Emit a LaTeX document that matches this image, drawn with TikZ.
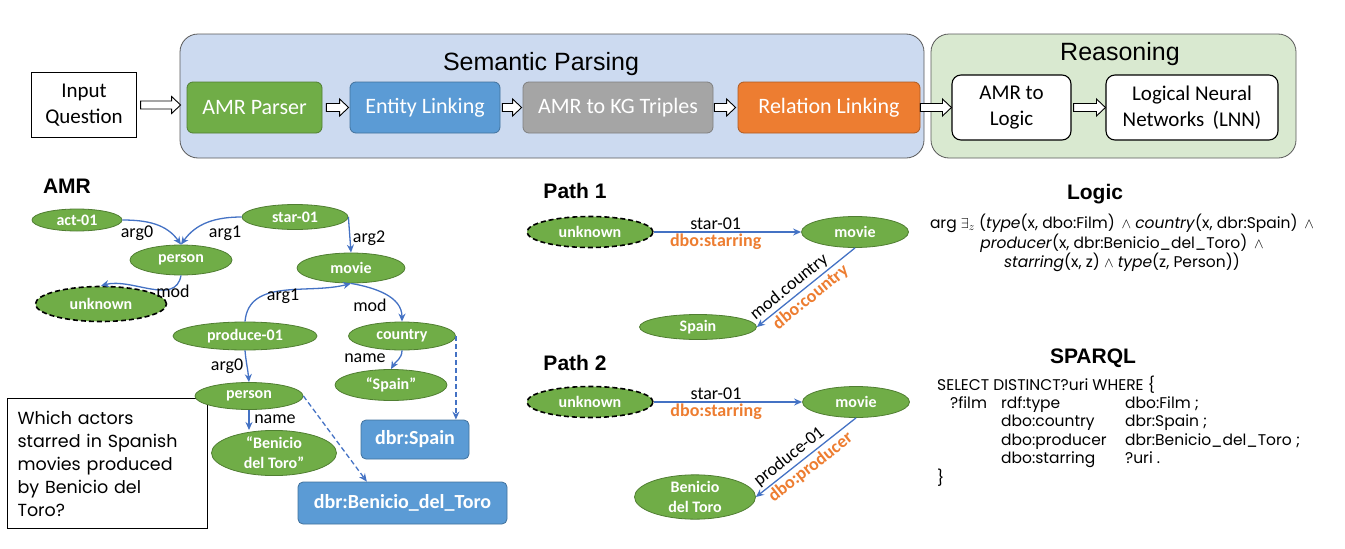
\documentclass[tikz,border=0pt]{standalone}
\usepackage{fontspec}
\setmainfont{Carlito}
\newfontfamily\arialfont{Liberation Sans}
\newfontfamily\gothicfont{Poppins}
\usetikzlibrary{shapes,arrows.meta,calc}

\definecolor{amrgreen}{HTML}{70AD47}
\definecolor{amrgreenline}{HTML}{507E32}
\definecolor{kgblue}{HTML}{5B9BD5}
\definecolor{kgblueline}{HTML}{41719C}
\definecolor{kggray}{HTML}{A5A5A5}
\definecolor{kggrayline}{HTML}{7F7F7F}
\definecolor{relorange}{HTML}{ED7D31}
\definecolor{relorangeline}{HTML}{AE5A21}
\definecolor{edgeblue}{HTML}{4472C4}
\definecolor{parsefill}{HTML}{CCDAF0}
\definecolor{reasonfill}{HTML}{D9E9D0}

\begin{document}
\begin{tikzpicture}[x=1pt,y=-1pt]
\useasboundingbox (0,0) rectangle (1345,549);
\tikzstyle{stage}=[draw, rounded corners=6pt, line width=0.8pt, minimum height=51pt, inner sep=0pt, text=white, font=\fontsize{22}{26}\selectfont]
\tikzstyle{whitebox}=[draw=black, fill=white, rounded corners=9pt, line width=1.1pt, minimum height=65pt, inner sep=0pt, align=center, font=\fontsize{21}{26}\selectfont]
\tikzstyle{hollow}=[draw=black, fill=white, line width=0.9pt,
  to path={let \p1=(\tikztostart), \p2=(\tikztotarget) in
    (\x1,\y1+4pt) -- (\x2-9pt,\y1+4pt) -- (\x2-9pt,\y1+8.5pt) -- (\x2,\y1)
    -- (\x2-9pt,\y1-8.5pt) -- (\x2-9pt,\y1-4pt) -- (\x1,\y1-4pt) -- cycle}]
\tikzstyle{amr}=[ellipse, draw=amrgreenline, fill=amrgreen, line width=0.8pt, inner sep=0pt, align=center, text=white, font=\bfseries\fontsize{16}{20}\selectfont]
\tikzstyle{unk}=[amr, draw=black, line width=1.6pt, dash pattern=on 5pt off 3pt]
\tikzstyle{kg}=[draw=kgblueline, fill=kgblue, rounded corners=5pt, line width=0.8pt, inner sep=0pt, text=white, font=\bfseries\fontsize{20}{24}\selectfont]
\tikzstyle{link}=[draw=edgeblue, line width=1.3pt, -{Stealth[length=8pt,width=7pt]}]
\tikzstyle{lbl}=[inner sep=1.5pt, font=\fontsize{18}{20}\selectfont]
\tikzstyle{rel}=[inner sep=1.5pt, text=relorange, font=\bfseries\fontsize{18}{20}\selectfont]
\tikzstyle{title}=[font=\arialfont\bfseries\fontsize{21}{24}\selectfont]

\begin{scope}
\draw[draw=black!65, fill=parsefill, line width=0.8pt, rounded corners=18pt] (180,34) rectangle (924,158);
\draw[draw=black!65, fill=reasonfill, line width=0.8pt, rounded corners=18pt] (931,34) rectangle (1296,158);
\draw (541,64) node[font=\arialfont\fontsize{25}{28}\selectfont] (semp) {Semantic Parsing};
\draw (1120,54) node[font=\arialfont\fontsize{25}{28}\selectfont] (reas) {Reasoning};
\draw (84,105) node[draw=black, line width=1.1pt, minimum width=105pt, minimum height=65pt, align=center, font=\fontsize{21}{26}\selectfont] (inq) {Input\\Question};
\draw (254.5,107.5) node[stage, fill=amrgreen, draw=amrgreenline, minimum width=135pt] (amrp) {AMR Parser};
\draw (425,107.5) node[stage, fill=kgblue, draw=kgblueline, minimum width=150pt] (ent) {Entity Linking};
\draw (618,107.5) node[stage, fill=kggray, draw=kggrayline, minimum width=190pt] (kgt) {AMR to KG Triples};
\draw (829,107.5) node[stage, fill=relorange, draw=relorangeline, minimum width=182pt] (relk) {Relation Linking};
\draw (1011.5,107.5) node[whitebox, minimum width=119pt] (logic) {AMR to\\Logic};
\draw (1192,107.5) node[whitebox, minimum width=172pt] (lnn) {Logical Neural\\Networks\, (LNN)};
\draw[hollow] ([xshift=3.5pt]inq.east) to ([xshift=-6pt]amrp.west);
\draw[hollow] ([xshift=4pt]amrp.east) to ([xshift=-1pt]ent.west);
\draw[hollow] ([xshift=2pt]ent.east) to ([xshift=-1pt]kgt.west);
\draw[hollow] ([xshift=1pt]kgt.east) to ([xshift=-2pt]relk.west);
\draw[hollow] (relk.east) to (logic.west);
\draw[hollow] ([xshift=2pt]logic.east) to (lnn.west);
\end{scope}

\begin{scope}
\draw (67,186) node[title] (amrt) {AMR};
\draw (7,398) node[draw=black, line width=1.1pt, fill=white, anchor=north west, text width=180pt, inner xsep=10pt, minimum height=130pt, align=left, font=\gothicfont\fontsize{17.5}{23}\selectfont] (quest) {Which actors\\starred in Spanish\\movies produced\\by Benicio del\\Toro?};
\draw (77,220) node[amr, minimum width=90pt, minimum height=22pt] (act) {act-01};
\draw (295,217) node[amr, minimum width=106pt, minimum height=25pt] (star) {star-01};
\draw (181,260) node[amr, minimum width=102pt, minimum height=30pt] (per1) {person};
\draw (351,268) node[amr, minimum width=108pt, minimum height=30pt] (movie) {movie};
\draw (101,304) node[unk, minimum width=131pt, minimum height=35pt] (unk) {unknown};
\draw (245,336) node[amr, minimum width=144pt, minimum height=28pt] (prod) {produce-01};
\draw (402,336) node[amr, minimum width=107pt, minimum height=28pt] (country) {country};
\draw (249,396) node[amr, minimum width=108pt, minimum height=27pt] (per2) {person};
\draw (391,385) node[amr, minimum width=112pt, minimum height=31pt] (spainq) {“Spain”};
\draw (274,453) node[amr, minimum width=125pt, minimum height=35pt] (benq) {“Benicio\\del Toro”};
\draw (415,439.5) node[kg, minimum width=108pt, minimum height=39pt] (dbrspain) {dbr:Spain};
\draw (402.5,503) node[kg, minimum width=209pt, minimum height=42pt] (dbrben) {dbr:Benicio\_del\_Toro};
\draw[link] (act.east) to[out=0,in=125] (per1.north);
\draw[link] (star.west) to[out=180,in=55] (per1.north);
\draw[link] (star.east) -- (movie.north);
\draw[link] (per1.south) to[out=-100,in=15] (unk.north);
\draw[link] (prod.north) to[out=85,in=-165] (movie.south);
\draw[link] (movie.south) to[out=-10,in=90] (country.north);
\draw[link] (prod.south) to[out=-85,in=95] (per2.north);
\draw[link] (country.south) to[out=-90,in=60] (spainq.north);
\draw[link] (per2.south) -- (per2.south |- benq.north);
\draw[link, dash pattern=on 5pt off 3pt] (country.east) -- (country.east |- dbrspain.north);
\draw[link, dash pattern=on 5pt off 3pt] (per2.east) -- ($(dbrben.north west)!0.33!(dbrben.north east)$);
\draw (137,233) node[lbl] (la1) {arg0};
\draw (225,233) node[lbl] (la2) {arg1};
\draw (369,238) node[lbl] (la3) {arg2};
\draw (173,291) node[lbl] (la4) {mod};
\draw (283,296) node[lbl] (la5) {arg1};
\draw (370,305) node[lbl] (la6) {mod};
\draw (365,358) node[lbl] (la7) {name};
\draw (227,366) node[lbl] (la8) {arg0};
\draw (275,419) node[lbl] (la9) {name};
\end{scope}

\begin{scope}
\draw (575,191) node[title] (path1) {Path 1};
\draw (590,232) node[unk, minimum width=126pt, minimum height=31pt] (u1) {unknown};
\draw (855,232) node[amr, minimum width=107pt, minimum height=31pt] (m1) {movie};
\draw (698,327) node[amr, minimum width=117pt, minimum height=25pt] (s1) {Spain};
\draw[link] (u1.east) -- node[lbl, pos=0.42, above] (p1a) {star-01} node[rel, pos=0.42, below] (p1b) {dbo:starring} (m1.west);
\draw[link] (m1.south) -- node[lbl, sloped, pos=0.6, above, inner sep=2.5pt] (p1c) {mod.country} node[rel, sloped, pos=0.52, below, inner sep=2.5pt] (p1d) {dbo:country} (s1.east);
\end{scope}

\begin{scope}
\draw (575,363) node[title] (path2) {Path 2};
\draw (590,402) node[unk, minimum width=126pt, minimum height=31pt] (u2) {unknown};
\draw (856,402) node[amr, minimum width=107pt, minimum height=31pt] (m2) {movie};
\draw (695,497) node[amr, minimum width=121pt, minimum height=41pt] (b2) {Benicio\\del Toro};
\draw[link] (u2.east) -- node[lbl, pos=0.42, above] (p2a) {star-01} node[rel, pos=0.42, below] (p2b) {dbo:starring} (m2.west);
\draw[link] (m2.south) -- node[lbl, sloped, pos=0.6, above, inner sep=2.5pt] (p2c) {produce-01} node[rel, sloped, pos=0.52, below, inner sep=2.5pt] (p2d) {dbo:producer} (b2.east);
\end{scope}

\begin{scope}
\draw (1095,194) node[title] (logt) {Logic};
\draw (1122,243) node[align=center, inner sep=0pt, font=\gothicfont\fontsize{15.5}{19.5}\selectfont] (logx) {arg $\exists_z$ (\textit{type}(x, dbo:Film) \,$\wedge$ \textit{country}(x, dbr:Spain) \,$\wedge$\\
\textit{producer}(x, dbr:Benicio\_del\_Toro) \,$\wedge$\\
\textit{starring}(x, z) $\wedge$ \textit{type}(z, Person))};
\draw (1093,358) node[title] (sqt) {SPARQL};
\draw (937,431) node[anchor=west, align=left, inner sep=0pt, font=\gothicfont\fontsize{15.5}{18.4}\selectfont] (sqx) {SELECT DISTINCT?uri WHERE \{\\
\hspace*{13pt}\makebox[51pt][l]{?film}\makebox[124pt][l]{rdf:type}dbo:Film ;\\
\hspace*{64pt}\makebox[124pt][l]{dbo:country}dbr:Spain ;\\
\hspace*{64pt}\makebox[124pt][l]{dbo:producer}dbr:Benicio\_del\_Toro ;\\
\hspace*{64pt}\makebox[124pt][l]{dbo:starring}?uri .\\
\}};
\end{scope}
\end{tikzpicture}
\end{document}
